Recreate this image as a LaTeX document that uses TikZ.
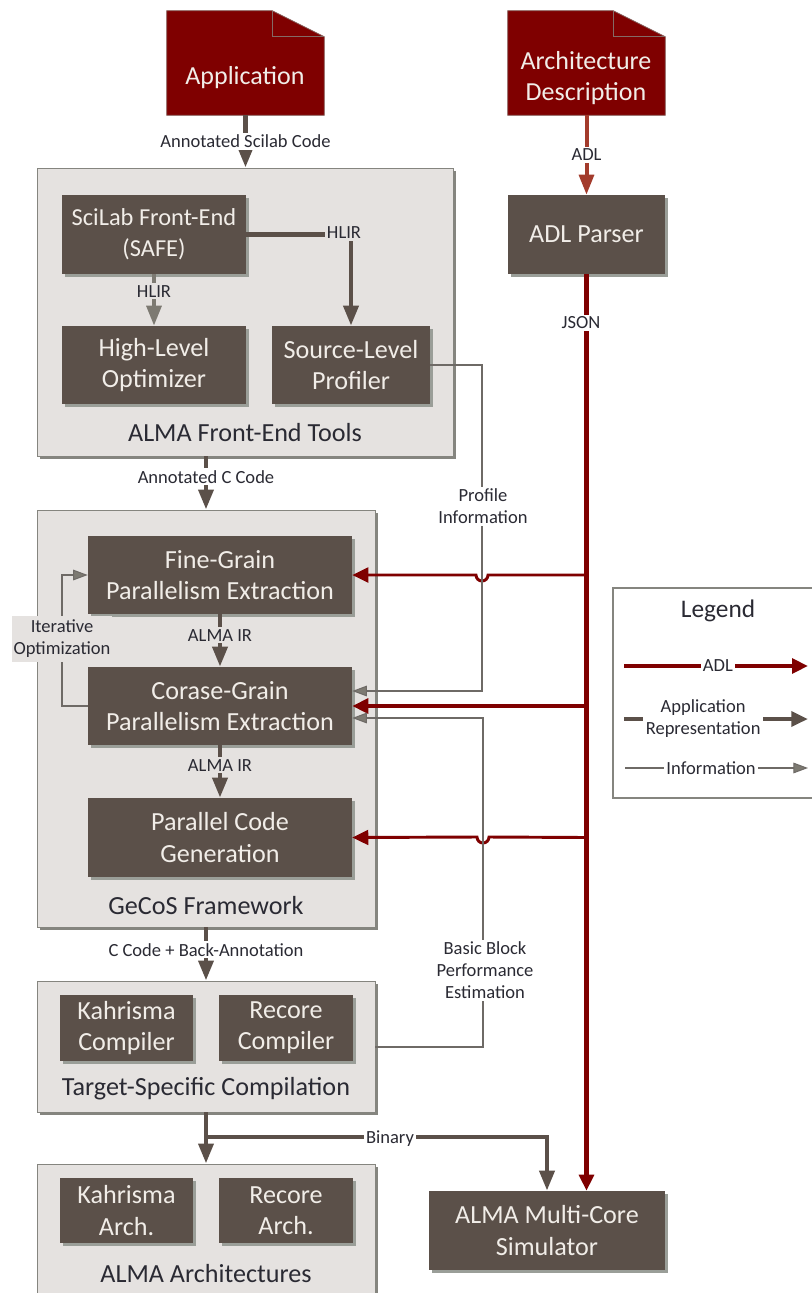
\documentclass[tikz,border=0pt]{standalone}
\usepackage{fontspec}
\setmainfont{Carlito}
\usetikzlibrary{arrows.meta,shadows,calc}
\definecolor{boxdark}{HTML}{5B5049}
\definecolor{redark}{HTML}{7F0000}
\definecolor{adlred}{HTML}{A33B2C}
\definecolor{panel}{HTML}{E5E2E0}
\definecolor{panelline}{HTML}{85857F}
\definecolor{shadowgray}{HTML}{9A9E98}
\definecolor{boxtext}{HTML}{F1EDE8}
\definecolor{inktext}{HTML}{2A2A33}
\definecolor{infoline}{HTML}{6E6A66}
\definecolor{softgray}{HTML}{7D7A72}
\newcommand\pxbox[7]{%
  \pgfmathsetmacro\bcx{(#3+#5)/2}\pgfmathsetmacro\bcy{(#4+#6)/2}%
  \pgfmathsetmacro\bbw{(#5-#3)*0.75}\pgfmathsetmacro\bbh{(#6-#4)*0.75}%
  \node[#2,minimum width=\bbw pt,minimum height=\bbh pt] (#1) at (\bcx,\bcy) {#7};}
\newcommand\docshape[1]{%
  \fill[redark,draw=panelline!70!redark,line width=0.6pt] (#1.north west) -- ($(#1.north east)+(-52,0)$) -- ($(#1.north east)+(0,26)$) -- (#1.south east) -- (#1.south west) -- cycle;
  \draw[panelline!80!redark,line width=0.8pt] ($(#1.north east)+(-52,0)$) -- ($(#1.north east)+(-52,26)$) -- ($(#1.north east)+(0,26)$);}
\tikzset{
  x=0.75pt,y=-0.75pt,
  panelbox/.style={fill=panel,draw=panelline,line width=0.7pt,inner sep=0pt,
    drop shadow={shadow xshift=2.2pt,shadow yshift=-2.2pt,fill=panelline,opacity=1}},
  darkbox/.style={fill=boxdark,inner sep=0pt,text=boxtext,align=center,
    font=\fontsize{19.6}{23.3}\selectfont,
    drop shadow={shadow xshift=2pt,shadow yshift=-2pt,fill=shadowgray,opacity=1}},
  smalldark/.style={darkbox,font=\fontsize{18.3}{23.3}\selectfont},
  plainbox/.style={inner sep=0pt},
  doctext/.style={text=boxtext,align=center,font=\fontsize{19.5}{23.3}\selectfont,inner sep=0pt},
  paneltitle/.style={text=inktext,font=\fontsize{19.6}{23}\selectfont,inner sep=0pt},
  edgelabel/.style={text=inktext,font=\fontsize{13.9}{16.5}\selectfont,align=center,fill=white,inner sep=1.5pt},
  panellabel/.style={edgelabel,fill=panel},
  apparrow/.style={draw=boxdark,line width=3.4pt,-{Triangle[length=15pt,width=11pt,fill=boxdark]}},
  appthin/.style={draw=boxdark,line width=3.4pt,-{Triangle[length=12.5pt,width=11pt,fill=boxdark]}},
  softarrow/.style={draw=softgray,line width=3pt,-{Triangle[length=15pt,width=11pt,fill=softgray]}},
  adltop/.style={draw=adlred,line width=3pt,-{Triangle[length=15pt,width=11pt,fill=adlred]}},
  redmain/.style={draw=redark,line width=3.4pt,-{Triangle[length=12pt,width=11pt,fill=redark]}},
  redbranch/.style={draw=redark,line width=2.2pt,-{Triangle[length=12pt,width=11pt,fill=redark]}},
  redthick/.style={draw=redark,line width=3.2pt,-{Triangle[length=12pt,width=11pt,fill=redark]}},
  infoarrow/.style={draw=infoline,line width=0.8pt,-{Triangle[length=11pt,width=8pt,fill=softgray]}},
  legendbox/.style={draw=panelline,line width=0.8pt,fill=white,inner sep=0pt},
}
\begin{document}
\begin{tikzpicture}
\useasboundingbox (0,0) rectangle (811,1293);
\fill[white] (0,0) rectangle (811,1293);

% panels
\pxbox{front}{panelbox}{37}{168}{453}{456}{}
\pxbox{gecos}{panelbox}{37}{510}{375}{927}{}
\pxbox{target}{panelbox}{37}{981}{375}{1112}{}
\pxbox{archs}{panelbox}{37}{1164}{375}{1310}{}

% documents
\pxbox{app}{plainbox}{167}{11}{324}{115}{}
\docshape{app}
\node[doctext] (apptext) at (245,78) {Application};
\pxbox{arch}{plainbox}{508}{11}{665}{115}{}
\docshape{arch}
\node[doctext] (archtext) at (586,78) {Architecture\\Description};

% boxes
\pxbox{parser}{darkbox}{508}{195}{665}{274}{ADL Parser}
\pxbox{safe}{smalldark}{62}{195}{246}{274}{SciLab Front-End\\(SAFE)}
\pxbox{hlo}{darkbox}{62}{326}{246}{404}{High-Level\\Optimizer}
\pxbox{slp}{darkbox}{272}{326}{430}{404}{Source-Level\\Profiler}
\pxbox{fine}{darkbox}{88}{536}{352}{614}{Fine-Grain\\Parallelism Extraction}
\pxbox{coarse}{darkbox}{88}{667}{352}{745}{Corase-Grain\\Parallelism Extraction}
\pxbox{pcg}{darkbox}{88}{798}{352}{877}{Parallel Code\\Generation}
\pxbox{kcomp}{darkbox}{60}{995}{193}{1061}{Kahrisma\\Compiler}
\pxbox{rcomp}{darkbox}{219}{995}{353}{1061}{Recore\\Compiler}
\pxbox{karch}{darkbox}{60}{1178}{193}{1243}{Kahrisma\\Arch.}
\pxbox{rarch}{darkbox}{219}{1178}{353}{1243}{Recore\\Arch.}
\pxbox{sim}{darkbox}{429}{1191}{665}{1270}{ALMA Multi-Core\\Simulator}

% panel titles
\node[paneltitle] (fronttitle) at (245,433) {ALMA Front-End Tools};
\node[paneltitle] (gecostitle) at (206,906) {GeCoS Framework};
\node[paneltitle] (targettitle) at (206,1089) {Target-Specific Compilation};
\node[paneltitle] (archstitle) at (206,1274) {ALMA Architectures};

% application flow
\draw[apparrow] (app.south) -- (app.south |- front.north) node[edgelabel,pos=0.5] {Annotated Scilab Code};
\draw[apparrow] (front.south -| gecos.north) -- (gecos.north) node[edgelabel,pos=0.38] {Annotated C Code};
\draw[apparrow] (gecos.south) -- (gecos.south |- target.north) node[edgelabel,pos=0.42] {C Code + Back-Annotation};
\draw[softarrow] (safe.south) -- (hlo.north) node[panellabel,pos=0.33] {HLIR};
\draw[apparrow] (fine.south) -- (coarse.north) node[panellabel,pos=0.4] {ALMA IR};
\draw[apparrow] (coarse.south) -- (pcg.north) node[panellabel,pos=0.38] {ALMA IR};
\coordinate (hlirturn) at (safe.east -| slp.north);
\draw[apparrow] (safe.east) -- (hlirturn) -- (slp.north);
\node[panellabel] (hlirlabel) at (344,233) {HLIR};
\coordinate (binfork) at (206,1137);
\coordinate (binturn) at (binfork -| sim.north);
\draw[apparrow] (target.south) -- (target.south |- archs.north);
\draw[apparrow] (binfork) -- (binturn) -- (sim.north);
\node[edgelabel] (binlabel) at (390,1139) {Binary};

% ADL
\draw[adltop] (arch.south) -- (arch.south |- parser.north) node[edgelabel,pos=0.5] {ADL};
\draw[redmain] (parser.south) -- (parser.south |- sim.north);
\node[edgelabel] (jsonlabel) at (581,323) {JSON};
\coordinate (jump1) at (482,575);
\coordinate (jump2) at (483,837);
\draw[redbranch] (parser.south |- fine.east) -- ($(jump1)+(6,0)$) arc[start angle=0,end angle=180,radius=6] -- (fine.east);
\draw[redthick] (parser.south |- coarse.east) -- (coarse.east);
\draw[redbranch] (parser.south |- pcg.east) -- ($(jump2)+(6,0)$) arc[start angle=0,end angle=180,radius=6] -- (pcg.east);

% information
\coordinate (profin) at ($(coarse.east)+(0,-15)$);
\coordinate (bbin) at ($(coarse.east)+(0,12)$);
\draw[infoarrow] (slp.east) -- (slp.east -| jump1) -- (jump1 |- profin) -- (profin);
\draw[infoarrow] (target.east |- 0,1047) -- (jump2 |- 0,1047) -- (jump2 |- bbin) -- (bbin);
\node[edgelabel] (proflabel) at (483,506) {Profile\\Information};
\node[edgelabel] (bblabel) at (485,970) {Basic Block\\Performance\\Estimation};
\coordinate (iterx) at (62,0);
\draw[infoarrow] (coarse.west) -- (iterx |- coarse.west) -- (iterx |- fine.west) -- (fine.west);
\node[panellabel,minimum width=72pt,minimum height=34pt] (iterlabel) at (62,639) {Iterative\\Optimization};

% legend
\pxbox{legend}{legendbox}{613}{588}{830}{798}{}
\node[text=inktext,font=\fontsize{19}{23}\selectfont,inner sep=0pt] (legendtitle) at (718,611) {Legend};
\coordinate (l1a) at (624,666); \coordinate (l1b) at (808,666);
\coordinate (l2a) at (624,719); \coordinate (l2b) at (808,719);
\coordinate (l3a) at (625,768); \coordinate (l3b) at (808,768);
\draw[redthick] (l1a) -- (l1b) node[edgelabel,pos=0.51] {ADL};
\draw[appthin] (l2a) -- (l2b) node[edgelabel,pos=0.43,inner sep=2pt] {Application\\Representation};
\draw[infoarrow] (l3a) -- (l3b) node[edgelabel,pos=0.47] {Information};
\end{tikzpicture}
\end{document}
